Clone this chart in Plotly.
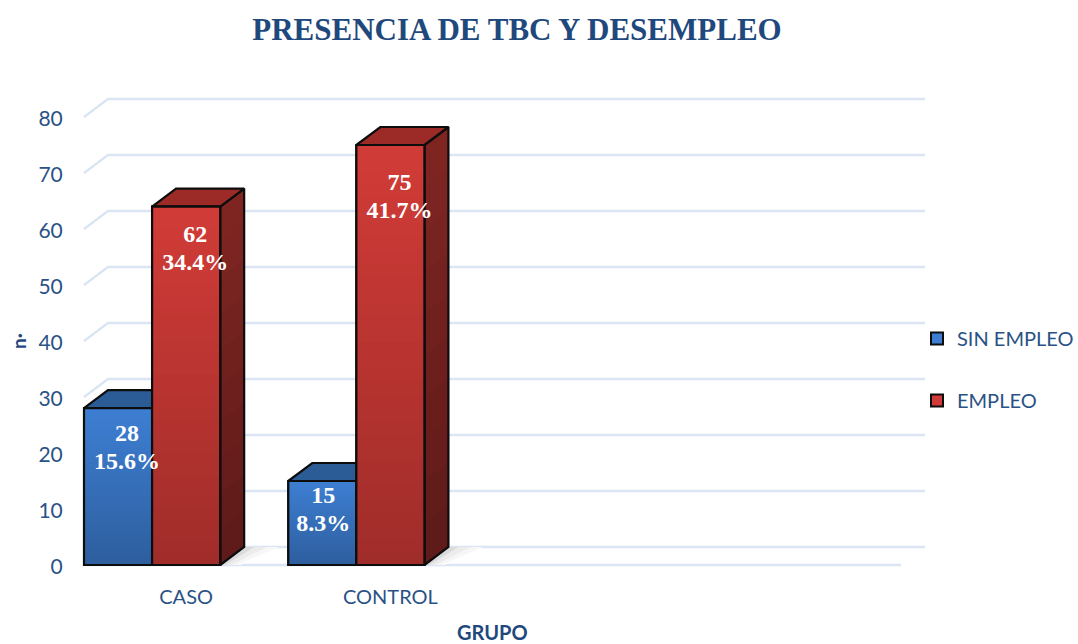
import plotly.graph_objects as go

# ── Datos ─────────────────────────────────────────────────────────────────────
GRUPOS = ["CASO", "CONTROL"]
SIN_EMPLEO = [28, 15]
EMPLEO = [64, 75]  # la barra de CASO está dibujada a ~64 aunque la etiqueta dice 62
CUENTAS_SIN = ["28", "15"]
CUENTAS_CON = ["62", "75"]
PCT_SIN = ["15.6%", "8.3%"]
PCT_CON = ["34.4%", "41.7%"]
TICKS_Y = [0, 10, 20, 30, 40, 50, 60, 70, 80]
N_CATEGORIAS = 4

# ── Geometría y estilo ────────────────────────────────────────────────────────
PX_X = 204.25
PX_Y = 5.6
DX = 24 / PX_X
DY = 18 / PX_Y
ANCHO = 1 / 3
AZUL_OSC = "#1F497D"
GRID = "#DBE5F4"
BORDE = "#0D0D0D"
SERIF = "Liberation Serif"
SANS = "Lato"
HOLGURA = 2  # px extra alrededor del área para no recortar bordes
M_IZQ, M_DER, M_SUP, M_INF = 84 - HOLGURA, 153, 99 - HOLGURA, 79 - HOLGURA
Y_ETIQUETA_CUENTA = [(565 - 435) / PX_Y, (565 - 497) / PX_Y, (565 - 236) / PX_Y, (565 - 184) / PX_Y]
Y_ETIQUETA_PCT = [(565 - 463) / PX_Y, (565 - 525) / PX_Y, (565 - 264) / PX_Y, (565 - 212) / PX_Y]
X_ETIQUETA_PX = [9, 1, 9, 9]


def mezcla(c1, c2, t):
    a = [int(c1[i:i + 2], 16) for i in (1, 3, 5)]
    b = [int(c2[i:i + 2], 16) for i in (1, 3, 5)]
    return "rgb(%d,%d,%d)" % tuple(round(p + (q - p) * t) for p, q in zip(a, b))


def poligono(xs, ys, relleno, z, linea=None):
    return go.Scatter(
        x=xs, y=ys, mode="lines", fill="toself", fillcolor=relleno,
        line=dict(color=linea or "rgba(0,0,0,0)", width=2.2 if linea else 0),
        showlegend=False, hoverinfo="skip", zorder=z, cliponaxis=False,
    )


def barra_3d(fig, xc, valor, lado, tapa, z, sombra=False):
    x0, x1 = xc - ANCHO / 2, xc + ANCHO / 2

    # sombra sobre el suelo
    if sombra:
        fig.add_trace(poligono(
            [x1, x1 + DX, x1 + DX + 0.17, x1 + 0.1], [0, DY, DY, 0], "#FFFFFF", 1))
        for k, alfa in [(0.17, 0.04), (0.11, 0.06), (0.05, 0.09)]:
            fig.add_trace(poligono(
                [x1, x1 + DX, x1 + DX + k, x1 + k * 0.5], [0, DY, DY, 0],
                f"rgba(60,60,60,{alfa})", 1))

    # cara lateral, de la más alta a la más baja para que no queden costuras
    n = 10
    for i in range(n):
        h = valor * (n - i) / n
        fig.add_trace(poligono(
            [x1, x1 + DX, x1 + DX, x1], [0, DY, h + DY, h],
            mezcla(lado[0], lado[1], i / (n - 1)), z))
    fig.add_trace(poligono(
        [x1, x1 + DX, x1 + DX, x1, x1], [0, DY, valor + DY, valor, 0],
        "rgba(0,0,0,0)", z, BORDE))
    fig.add_trace(poligono(
        [x0, x1, x1 + DX, x0 + DX, x0], [valor, valor, valor + DY, valor + DY, valor],
        tapa, z, BORDE))


def frente_3d(fig, xs, valores, nombre, colores, z):
    # barra base: es la que aparece en la leyenda
    fig.add_trace(go.Bar(
        x=xs, y=valores, width=ANCHO, name=nombre, zorder=z,
        marker=dict(color=colores[0], line=dict(color=BORDE, width=2)),
        legendgroup=nombre, hoverinfo="skip",
    ))
    n = 32
    for xc, v in zip(xs, valores):
        fig.add_trace(go.Bar(
            x=[xc] * n, y=[v * (n - i) / n for i in range(n)], width=ANCHO, zorder=z,
            marker=dict(color=[mezcla(colores[0], colores[1], i / (n - 1)) for i in range(n)],
                        line_width=0),
            showlegend=False, hoverinfo="skip",
        ))
    fig.add_trace(go.Bar(
        x=xs, y=valores, width=ANCHO, zorder=z,
        marker=dict(color="rgba(0,0,0,0)", line=dict(color=BORDE, width=2.2)),
        showlegend=False, hoverinfo="skip",
    ))


fig = go.Figure()

# ── Rejilla en perspectiva ────────────────────────────────────────────────────
for v in TICKS_Y:
    fig.add_trace(go.Scatter(
        x=[0, DX, N_CATEGORIAS + DX], y=[v, v + DY, v + DY], mode="lines",
        line=dict(color=GRID, width=2.4), showlegend=False, hoverinfo="skip",
        zorder=0, cliponaxis=False,
    ))
fig.add_trace(go.Scatter(
    x=[0, N_CATEGORIAS], y=[0, 0], mode="lines", line=dict(color=GRID, width=2.4),
    showlegend=False, hoverinfo="skip", zorder=0, cliponaxis=False,
))

# ── Barras ────────────────────────────────────────────────────────────────────
x_sin = [i + ANCHO / 2 for i in range(len(GRUPOS))]
x_con = [i + ANCHO * 1.5 for i in range(len(GRUPOS))]

for xc, v in zip(x_sin, SIN_EMPLEO):
    barra_3d(fig, xc, v, ("#2D5F9C", "#264F84"), "#2C5C96", 10)
frente_3d(fig, x_sin, SIN_EMPLEO, "SIN EMPLEO", ("#3D7ED2", "#2E5F9F"), 11)

for xc, v in zip(x_con, EMPLEO):
    barra_3d(fig, xc, v, ("#7E2522", "#5F1B19"), "#9C2B28", 20, sombra=True)
frente_3d(fig, x_con, EMPLEO, "EMPLEO", ("#D13B37", "#A02D2A"), 21)

# ── Etiquetas de datos ────────────────────────────────────────────────────────
x_etiquetas = [x + d / PX_X for x, d in zip(x_sin + x_con, X_ETIQUETA_PX)]
for ys, textos in [(Y_ETIQUETA_CUENTA, CUENTAS_SIN + CUENTAS_CON),
                   (Y_ETIQUETA_PCT, PCT_SIN + PCT_CON)]:
    fig.add_trace(go.Scatter(
        x=x_etiquetas, y=ys,
        text=[f"<b>{t}</b>" for t in textos],
        mode="text", textposition="middle center",
        textfont=dict(family=SERIF, size=24, color="white"),
        showlegend=False, hoverinfo="skip", zorder=30, cliponaxis=False,
    ))

ALTO_PLOT = 644 - M_SUP - M_INF
ANCHO_PLOT = 1078 - M_IZQ - M_DER


def px_a_paper(x, y):
    return (x - M_IZQ) / ANCHO_PLOT, 1 - (y - M_SUP) / ALTO_PLOT


gx, gy = px_a_paper(492, 632)
nx, ny = px_a_paper(18, 341)

fig.update_layout(
    width=1078, height=644, autosize=False,
    barmode="overlay",
    paper_bgcolor="white", plot_bgcolor="white",
    margin=dict(l=M_IZQ, r=M_DER, t=M_SUP, b=M_INF, autoexpand=False),
    title=dict(
        text="<b>PRESENCIA DE TBC Y DESEMPLEO</b>",
        x=517 / 1078, xanchor="center", y=1 - 29 / 644, yanchor="middle",
        font=dict(family=SERIF, size=31, color=AZUL_OSC),
    ),
    xaxis=dict(
        range=[-HOLGURA / PX_X, N_CATEGORIAS + DX], showgrid=False, zeroline=False, showline=False,
        tickmode="array", tickvals=[i + 0.5 for i in range(len(GRUPOS))], ticktext=GRUPOS,
        ticks="outside", ticklen=12, tickcolor="rgba(0,0,0,0)",
        tickfont=dict(family=SANS, size=20, color="#2A5286"),
    ),
    yaxis=dict(
        range=[-HOLGURA / PX_Y, 80 + DY + HOLGURA / PX_Y], showgrid=False, zeroline=False,
        showline=False, tickmode="array", tickvals=TICKS_Y,
        ticks="outside", ticklen=14, tickcolor="rgba(0,0,0,0)",
        ticklabelshift=2,
        tickfont=dict(family=SANS, size=21, color="#2A5286"),
    ),
    legend=dict(
        x=917 / 1078, xanchor="left", xref="container", y=1 - 319 / 644, yref="container",
        yanchor="top", font=dict(family=SANS, size=20, color="#2A5286"),
        tracegroupgap=33, bgcolor="rgba(0,0,0,0)",
    ),
    annotations=[
        dict(text="<b>GRUPO</b>", x=gx, y=gy, xref="paper", yref="paper", showarrow=False,
             xanchor="center", yanchor="middle",
             font=dict(family=SANS, size=20, color=AZUL_OSC)),
        dict(text="<b>n·</b>", x=nx, y=ny, xref="paper", yref="paper", showarrow=False,
             xanchor="center", yanchor="middle", textangle=-90,
             font=dict(family=SANS, size=19, color=AZUL_OSC)),
    ],
)

fig.write_html("out.html", config={"displayModeBar": False},
               post_script="document.body.style.margin='0';")
